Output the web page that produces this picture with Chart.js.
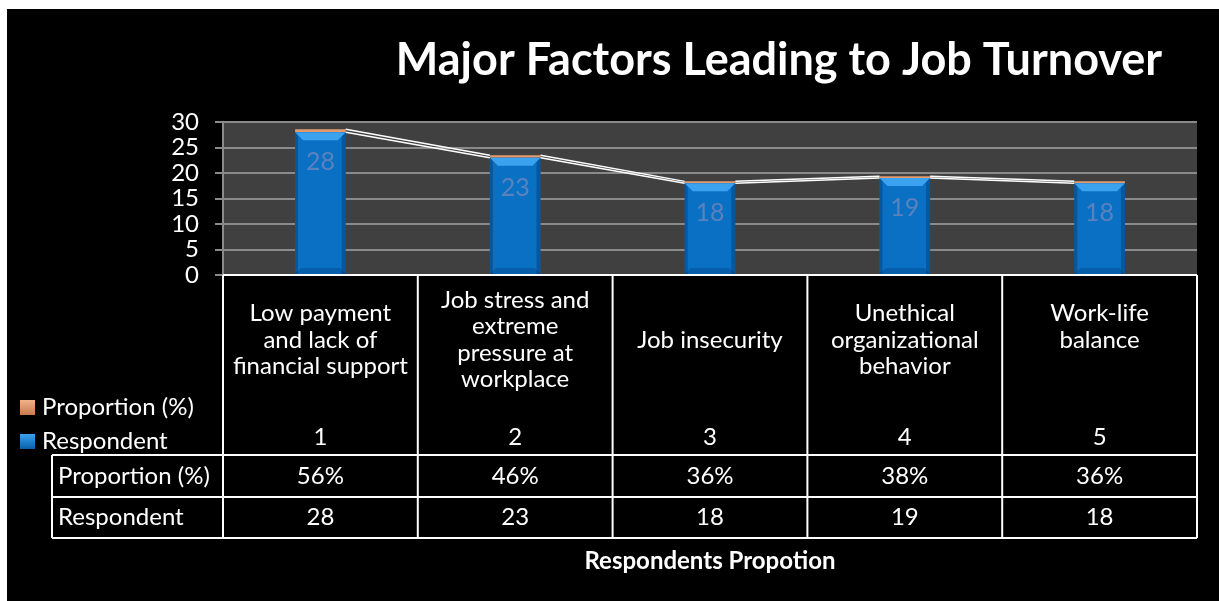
<!DOCTYPE html>
<html>
<head>
<meta charset="utf-8">
<title>Major Factors Leading to Job Turnover</title>
<script src="https://cdn.jsdelivr.net/npm/chart.js@4.4.0/dist/chart.umd.min.js"></script>
<style>
  html, body { margin: 0; padding: 0; background: #ffffff; }
  #wrap { width: 1219px; height: 601px; }
</style>
</head>
<body>
<div id="wrap"><canvas id="turnoverChart" width="1219" height="601"></canvas></div>
<script>
const chartTitle = "Major Factors Leading to Job Turnover";
const axisTitle = "Respondents Propotion";
const categoryNumbers = ["1", "2", "3", "4", "5"];
const categoryNames = [
  ["Low payment", "and lack of", "financial support"],
  ["Job stress and", "extreme", "pressure at", "workplace"],
  ["Job insecurity"],
  ["Unethical", "organizational", "behavior"],
  ["Work-life", "balance", ""]
];
const respondents = [28, 23, 18, 19, 18];
const proportions = [0.56, 0.46, 0.36, 0.38, 0.36];
const yTicks = [0, 5, 10, 15, 20, 25, 30];

const FONT = "Lato, 'Open Sans', sans-serif";
const BLUE = "#0a70c4";
const ORANGE = "#e39a6c";

function formatPercent(value) {
  return Math.round(value * 100) + "%";
}

// black card with the thin white strip on top / left
const backgroundPlugin = {
  id: "cardBackground",
  beforeDraw(chart) {
    const { ctx, width, height, chartArea } = chart;
    ctx.save();
    ctx.fillStyle = "#ffffff";
    ctx.fillRect(0, 0, width, height);
    ctx.fillStyle = "#000000";
    ctx.fillRect(7, 9, width - 7, height - 9);
    ctx.fillStyle = "#404040";
    ctx.fillRect(chartArea.left, chartArea.top, chartArea.right - chartArea.left, chartArea.bottom - chartArea.top);
    ctx.restore();
  }
};

// bevel look on the blue bars, series lines and the inside-end labels
const barDecorPlugin = {
  id: "barDecor",
  afterDatasetsDraw(chart) {
    const { ctx, scales } = chart;
    const bars = chart.getDatasetMeta(0).data;
    const y = scales.y;

    ctx.save();
    bars.forEach((bar) => {
      const left = bar.x - bar.width / 2;
      const right = bar.x + bar.width / 2;
      const top = bar.y;
      const bottom = bar.base;

      ctx.fillStyle = "rgba(0, 40, 90, 0.35)";
      ctx.fillRect(left, top, 3, bottom - top);
      ctx.fillRect(right - 4, top, 4, bottom - top);

      ctx.fillStyle = "#3aa2ee";
      ctx.beginPath();
      ctx.moveTo(left, top);
      ctx.lineTo(right, top);
      ctx.lineTo(right - 8, top + 8);
      ctx.lineTo(left + 8, top + 8);
      ctx.closePath();
      ctx.fill();

      ctx.fillStyle = "rgba(0, 40, 90, 0.25)";
      ctx.beginPath();
      ctx.moveTo(left, bottom);
      ctx.lineTo(right, bottom);
      ctx.lineTo(right - 6, bottom - 6);
      ctx.lineTo(left + 6, bottom - 6);
      ctx.closePath();
      ctx.fill();
    });

    // series lines between stacked tops
    ctx.strokeStyle = "#ffffff";
    ctx.lineWidth = 1.5;
    for (let i = 0; i < bars.length - 1; i++) {
      const a = bars[i];
      const b = bars[i + 1];
      const tops = [
        [respondents[i], respondents[i + 1]],
        [respondents[i] + proportions[i], respondents[i + 1] + proportions[i + 1]]
      ];
      tops.forEach(([v1, v2]) => {
        ctx.beginPath();
        ctx.moveTo(a.x + a.width / 2, y.getPixelForValue(v1));
        ctx.lineTo(b.x - b.width / 2, y.getPixelForValue(v2));
        ctx.stroke();
      });
    }

    ctx.fillStyle = "#5a82bd";
    ctx.font = "25px " + FONT;
    ctx.textAlign = "center";
    ctx.textBaseline = "middle";
    bars.forEach((bar, i) => {
      ctx.fillText(String(respondents[i]), bar.x, bar.y + 30);
    });
    ctx.restore();
  }
};

// title, data table, legend keys and axis title
const tablePlugin = {
  id: "dataTable",
  afterDraw(chart) {
    const { ctx, chartArea, scales } = chart;
    const x = scales.x;
    const n = categoryNumbers.length;
    const step = (chartArea.right - chartArea.left) / n;
    const top = chartArea.bottom;
    const headBottom = 455;
    const row1Bottom = 497;
    const row2Bottom = 538;
    const leftEdge = 52;

    ctx.save();
    ctx.fillStyle = "#ffffff";
    ctx.font = "bold 45px " + FONT;
    ctx.textAlign = "center";
    ctx.textBaseline = "middle";
    ctx.fillText(chartTitle, 779, 60);

    ctx.strokeStyle = "#ffffff";
    ctx.lineWidth = 2;
    ctx.beginPath();
    ctx.moveTo(chartArea.left, top);
    ctx.lineTo(chartArea.right, top);
    [headBottom, row1Bottom, row2Bottom].forEach((yy) => {
      ctx.moveTo(leftEdge, yy);
      ctx.lineTo(chartArea.right, yy);
    });
    ctx.moveTo(leftEdge, headBottom);
    ctx.lineTo(leftEdge, row2Bottom);
    for (let i = 0; i <= n; i++) {
      const xx = chartArea.left + step * i;
      ctx.moveTo(xx, top);
      ctx.lineTo(xx, row2Bottom);
    }
    ctx.stroke();

    ctx.font = "24px " + FONT;
    ctx.textAlign = "center";
    ctx.textBaseline = "middle";
    for (let i = 0; i < n; i++) {
      const cx = x.getPixelForValue(i);
      const lines = categoryNames[i];
      const lh = 26.5;
      const startY = 340 - ((lines.length - 1) * lh) / 2;
      lines.forEach((line, k) => ctx.fillText(line, cx, startY + k * lh));
      ctx.fillText(categoryNumbers[i], cx, 437);
      ctx.fillText(formatPercent(proportions[i]), cx, 476);
      ctx.fillText(String(respondents[i]), cx, 517);
    }

    ctx.textAlign = "left";
    ctx.fillText("Proportion (%)", 58, 476);
    ctx.fillText("Respondent", 58, 517);

    // legend keys
    const orangeKey = ctx.createLinearGradient(0, 400, 0, 415);
    orangeKey.addColorStop(0, "#f0b48a");
    orangeKey.addColorStop(1, "#c87a4c");
    ctx.fillStyle = orangeKey;
    ctx.fillRect(20, 400, 15, 15);
    const blueKey = ctx.createLinearGradient(0, 434, 0, 449);
    blueKey.addColorStop(0, "#3aa2ee");
    blueKey.addColorStop(1, "#0860a8");
    ctx.fillStyle = blueKey;
    ctx.fillRect(20, 434, 15, 15);
    ctx.fillStyle = "#ffffff";
    ctx.fillText("Proportion (%)", 42, 407);
    ctx.fillText("Respondent", 42, 441);

    ctx.font = "bold 24px " + FONT;
    ctx.textAlign = "center";
    ctx.fillText(axisTitle, (chartArea.left + chartArea.right) / 2, 561);
    ctx.restore();
  }
};

new Chart(document.getElementById("turnoverChart"), {
  type: "bar",
  data: {
    labels: categoryNumbers,
    datasets: [
      {
        label: "Respondent",
        data: respondents,
        backgroundColor: BLUE,
        borderWidth: 0,
        barPercentage: 0.26,
        categoryPercentage: 1
      },
      {
        label: "Proportion (%)",
        data: proportions,
        backgroundColor: ORANGE,
        borderWidth: 0,
        barPercentage: 0.26,
        categoryPercentage: 1
      }
    ]
  },
  options: {
    responsive: false,
    animation: false,
    devicePixelRatio: 1,
    layout: {
      padding: { left: 0, right: 22, top: 122, bottom: 326 }
    },
    plugins: {
      legend: { display: false },
      title: { display: false },
      tooltip: { enabled: false }
    },
    scales: {
      x: {
        stacked: true,
        display: false
      },
      y: {
        stacked: true,
        min: yTicks[0],
        max: yTicks[yTicks.length - 1],
        afterBuildTicks(scale) {
          scale.ticks = yTicks.map((v) => ({ value: v }));
        },
        afterFit(scale) {
          scale.width = 223;
        },
        ticks: {
          color: "#ffffff",
          padding: 16,
          autoSkip: false,
          font: { family: FONT, size: 24, lineHeight: 1 }
        },
        grid: {
          color: "#8a8a8a",
          lineWidth: 2,
          tickLength: 8,
          tickColor: "#8a8a8a"
        },
        border: { display: true, color: "#8a8a8a", width: 2 }
      }
    }
  },
  plugins: [backgroundPlugin, barDecorPlugin, tablePlugin]
});
</script>
</body>
</html>
